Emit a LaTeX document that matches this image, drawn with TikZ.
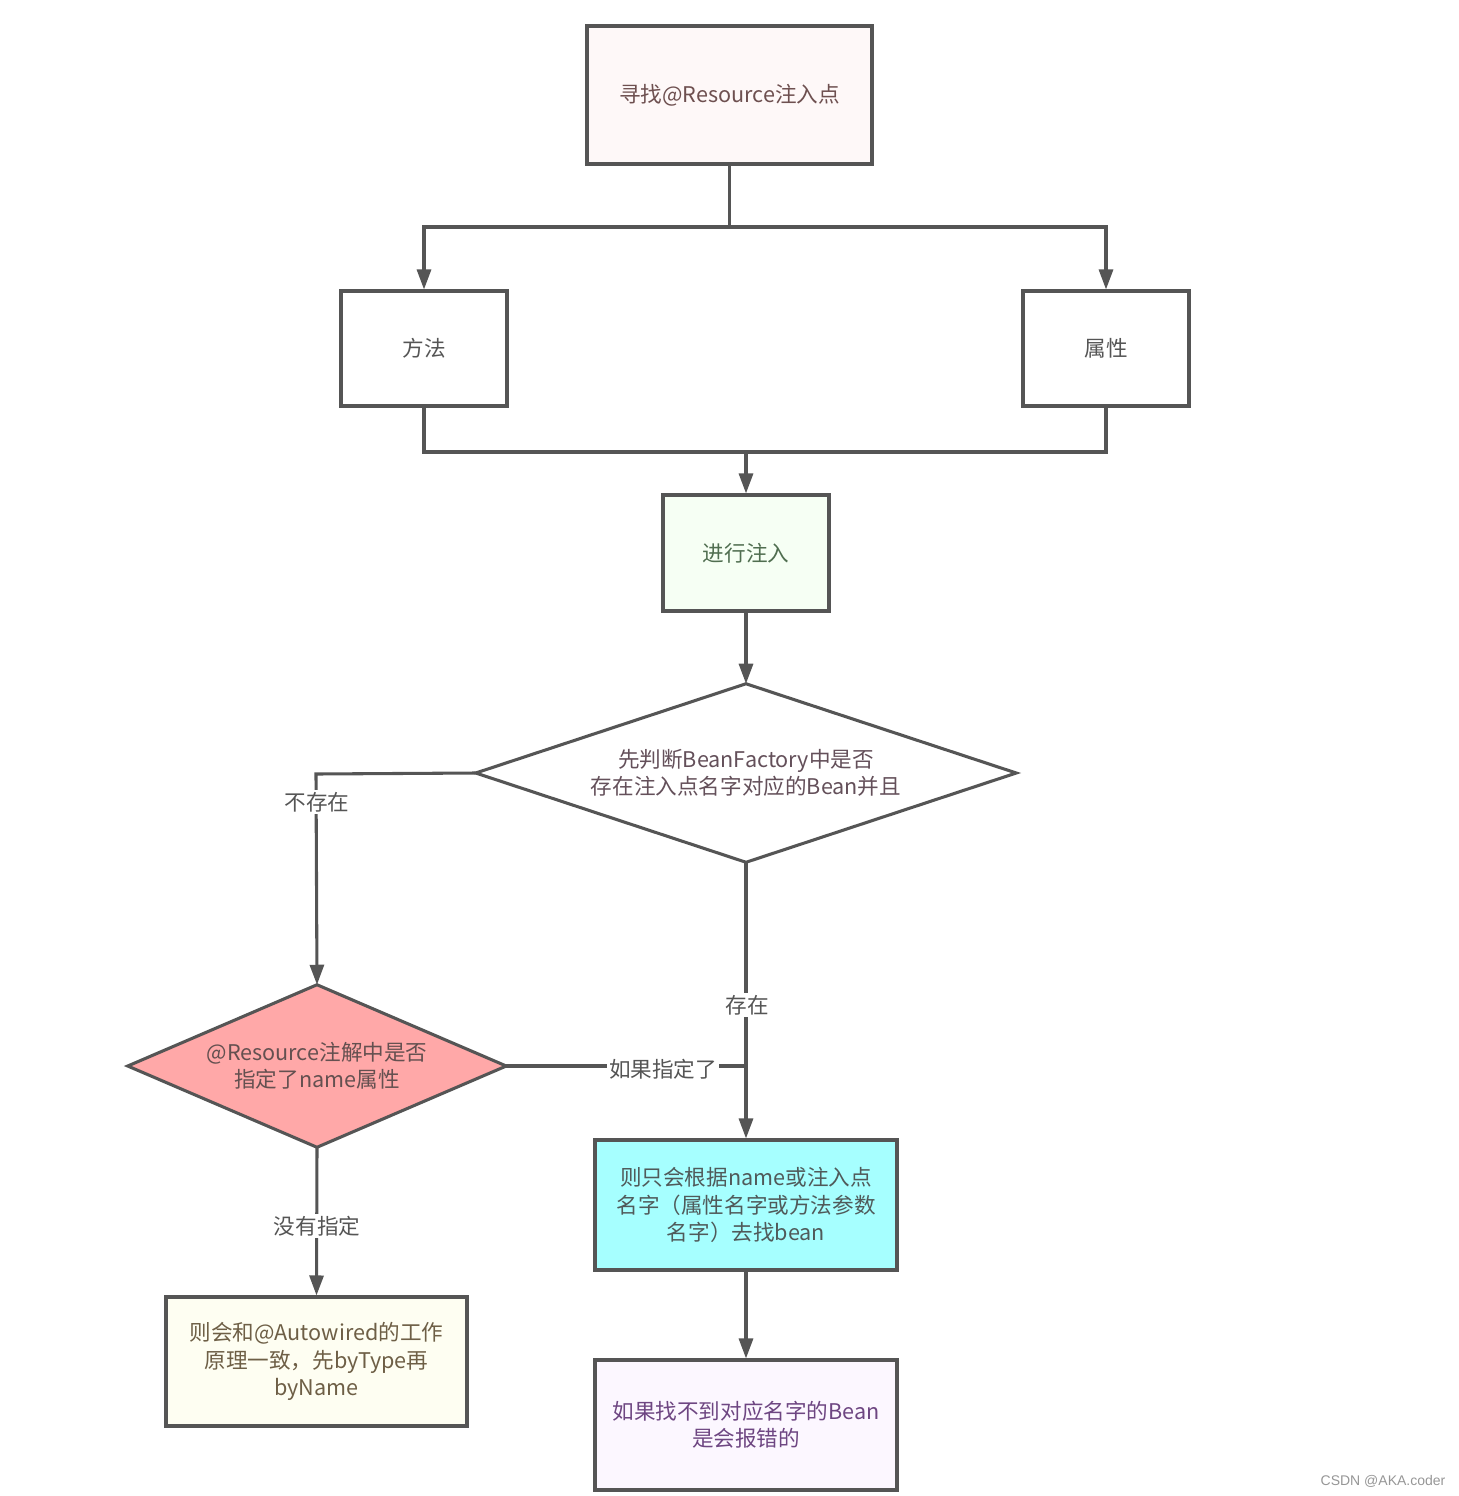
\documentclass[tikz,border=0pt]{standalone}
\usepackage{fontspec}
\setmainfont{Noto Sans CJK SC}
\newfontfamily\wmfont{Liberation Sans}
\usetikzlibrary{arrows.meta,shapes.geometric}
\definecolor{ln}{HTML}{555555}
\definecolor{txt}{HTML}{555555}
\definecolor{redfill}{RGB}{255,168,168}
\tikzset{
  x=0.75pt,y=-0.75pt,
  conn/.style={draw=ln,line width=2.3pt},
  arr/.style={conn,-{Triangle[length=15pt,width=10.5pt]}},
  box/.style={draw=ln,line width=2.3pt,rectangle,inner sep=0pt,align=center,font=\fontsize{16.2}{20.5}\selectfont},
  diabox/.style={rectangle,inner sep=0pt,align=center,font=\fontsize{16.2}{20.5}\selectfont},
  diaedge/.style={draw=ln,line width=2.3pt,line join=miter},
  lbl/.style={fill=white,inner sep=1.5pt,text=txt,font=\fontsize{16.2}{20.5}\selectfont},
}
\begin{document}
\begin{tikzpicture}
\useasboundingbox (0,0) rectangle (1459,1496);
\node[box,fill={rgb,255:red,254;green,248;blue,248},text={rgb,255:red,110;green,80;blue,80},minimum width=213.75pt,minimum height=103.5pt] (top) at (729.5,95) {寻找@Resource注入点};
\node[box,fill=white,text=txt,minimum width=124.5pt,minimum height=86.25pt] (fa) at (424,348.5) {方法};
\node[box,fill=white,text=txt,minimum width=124.5pt,minimum height=86.25pt] (sx) at (1106,348.5) {属性};
\node[box,fill={rgb,255:red,246;green,255;blue,244},text={rgb,255:red,80;green,110;blue,80},minimum width=124.5pt,minimum height=87pt] (inj) at (746,553) {进行注入};
% diamond 1
\node[diabox,minimum width=405pt,minimum height=133.5pt] (d1) at (746,773) {};
\draw[diaedge,fill=white] (d1.north) -- (d1.east) -- (d1.south) -- (d1.west) -- cycle;
\node[diabox,text={rgb,255:red,100;green,80;blue,90}] (t1) at (d1.center) {先判断BeanFactory中是否\\存在注入点名字对应的Bean并且};
% diamond 2
\node[diabox,minimum width=283.5pt,minimum height=121.5pt] (d2) at (317,1066) {};
\draw[diaedge,fill=redfill] (d2.north) -- (d2.east) -- (d2.south) -- (d2.west) -- cycle;
\node[diabox,text={rgb,255:red,100;green,80;blue,80}] (t2) at (d2.center) {@Resource注解中是否\\指定了name属性};
\node[box,fill={rgb,255:red,166;green,255;blue,255},text={rgb,255:red,80;green,90;blue,90},minimum width=226.5pt,minimum height=97.5pt] (cy) at (746,1205) {则只会根据name或注入点\\名字（属性名字或方法参数\\名字）去找bean};
\node[box,fill={rgb,255:red,252;green,247;blue,255},text={rgb,255:red,110;green,70;blue,130},minimum width=226.5pt,minimum height=97.5pt] (pu) at (746,1425) {如果找不到对应名字的Bean\\是会报错的};
\node[box,fill={rgb,255:red,254;green,254;blue,242},text={rgb,255:red,110;green,95;blue,70},minimum width=225.75pt,minimum height=96.75pt] (ye) at (316.5,1361.5) {则会和@Autowired的工作\\原理一致，先byType再\\byName};
% connectors
\coordinate (j1) at (729.5,227);
\draw[conn] (top.south) -- (j1);
\draw[arr] (j1) -| (fa.north);
\draw[arr] (j1) -| (sx.north);
\coordinate (j2) at (746,452);
\draw[conn] (fa.south) |- (j2);
\draw[conn] (sx.south) |- (j2);
\draw[arr] (j2) -- (inj.north);
\draw[arr] (inj.south) -- (d1.north);
\coordinate (c1) at (316,774);
\draw[arr] (d1.west) -- (c1) -- (d2.north);
\node[lbl] (l1) at (317,802) {不存在};
\draw[arr] (d1.south) -- (cy.north);
\node[lbl] (l2) at (747,1005) {存在};
\coordinate (j3) at (746,1066);
\draw[conn] (d2.east) -- (j3);
\node[lbl] (l3) at (663,1069) {如果指定了};
\draw[arr] (d2.south) -- (ye.north);
\node[lbl] (l4) at (317,1226) {没有指定};
\draw[arr] (cy.south) -- (pu.north);
\node[text={rgb,255:red,150;green,150;blue,150},font=\wmfont\fontsize{10.5}{12}\selectfont,inner sep=0pt] (wm) at (1383,1481) {CSDN @AKA.coder};
\end{tikzpicture}
\end{document}
